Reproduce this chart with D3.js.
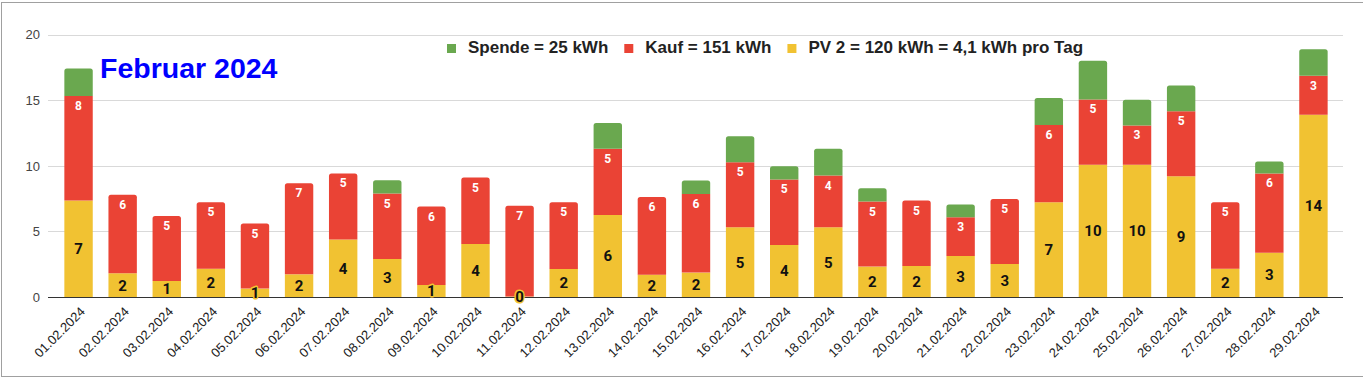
<!DOCTYPE html>
<html>
<head>
<meta charset="utf-8">
<script src="https://cdn.jsdelivr.net/npm/d3@7"></script>
<style>
  html, body { margin: 0; padding: 0; background: #fff; }
  svg { display: block; }
</style>
</head>
<body>
<div id="chart"></div>
<script>
const dates = ["01.02.2024","02.02.2024","03.02.2024","04.02.2024","05.02.2024","06.02.2024","07.02.2024","08.02.2024","09.02.2024","10.02.2024","11.02.2024","12.02.2024","13.02.2024","14.02.2024","15.02.2024","16.02.2024","17.02.2024","18.02.2024","19.02.2024","20.02.2024","21.02.2024","22.02.2024","23.02.2024","24.02.2024","25.02.2024","26.02.2024","27.02.2024","28.02.2024","29.02.2024"];
const pv     = [7.35,1.81,1.22,2.16,0.64,1.73,4.38,2.90,0.92,4.05,0.03,2.14,6.26,1.70,1.86,5.32,3.97,5.32,2.32,2.37,3.13,2.52,7.23,10.08,10.08,9.21,2.16,3.38,13.89];
const kauf   = [7.97,5.98,4.96,5.07,4.96,6.95,5.04,4.99,5.98,5.06,6.92,5.09,5.04,5.93,6.00,4.96,4.99,3.94,4.96,4.98,2.95,4.96,5.88,4.98,3.00,4.96,5.07,6.04,2.98];
const spende = [2.10,0,0,0,0,0,0,1.01,0,0,0,0,1.96,0,1.02,1.98,1.01,2.04,1.02,0,0.97,0,2.06,2.96,1.96,1.96,0,0.91,2.03];
const yTicks = [0,5,10,15,20];
const seriesKeys = ["pv","kauf","spende"];
const seriesColors = {pv:"#f1c232", kauf:"#ea4335", spende:"#6aa84f"};
const legendItems = [
  {key:"spende", label:"Spende = 25 kWh"},
  {key:"kauf", label:"Kauf = 151 kWh"},
  {key:"pv", label:"PV 2 = 120 kWh = 4,1 kWh pro Tag"}
];
const titleText = "Februar 2024";

const W = 1363, H = 378;
const rows = dates.map((d,i) => ({date:d, pv:pv[i], kauf:kauf[i], spende:spende[i]}));

const svg = d3.select("#chart").append("svg").attr("width", W).attr("height", H);

// outer frame
svg.append("rect").attr("x",1.5).attr("y",2.5).attr("width",1380).attr("height",374)
  .attr("fill","#fff").attr("stroke","#a0a0a0");

const x = d3.scaleBand().domain(dates).range([56.5, 1335.5]).paddingInner(0.356).paddingOuter(0.178);
const y = d3.scaleLinear().domain([0,20]).range([297, 34.7]);

const gridX0 = 48, gridX1 = 1343;

// gridlines
svg.append("g").selectAll("line").data(yTicks.filter(t => t !== 0)).join("line")
  .attr("x1", gridX0).attr("x2", gridX1)
  .attr("y1", d => Math.round(y(d)) + 0.5).attr("y2", d => Math.round(y(d)) + 0.5)
  .attr("stroke", "#d9d9d9").attr("stroke-width", 1);

// y tick labels
svg.append("g").selectAll("text").data(yTicks).join("text")
  .attr("x", 40).attr("y", d => y(d)).attr("dy","0.36em")
  .attr("text-anchor","end")
  .attr("font-family","'Liberation Sans', Arial, sans-serif").attr("font-size",13)
  .attr("fill","#444").text(d => d);

// stacked bars
const stack = d3.stack().keys(seriesKeys);
const stacked = stack(rows);

function topIndex(i) {
  let top = -1;
  seriesKeys.forEach((k, si) => { if (rows[i][k] > 0) top = si; });
  return top;
}

const r = 2.5;
stacked.forEach((layer, si) => {
  const key = layer.key;
  svg.append("g").selectAll("path").data(layer).join("path")
    .attr("fill", seriesColors[key])
    .attr("d", (d, i) => {
      const x0 = x(dates[i]), w = x.bandwidth();
      const yt = y(d[1]), yb = y(d[0]);
      const h = yb - yt;
      if (h <= 0) return "";
      if (topIndex(i) === si) {
        const rr = Math.min(r, h);
        return `M${x0},${yb}V${yt+rr}Q${x0},${yt} ${x0+rr},${yt}H${x0+w-rr}Q${x0+w},${yt} ${x0+w},${yt+rr}V${yb}Z`;
      }
      return `M${x0},${yb}V${yt}H${x0+w}V${yb}Z`;
    });
});

// baseline
svg.append("line").attr("x1", gridX0).attr("x2", gridX1)
  .attr("y1", y(0)+0.5).attr("y2", y(0)+0.5)
  .attr("stroke","#333").attr("stroke-width",1);

// red (Kauf) labels near top of segment
const kaufLayer = stacked[1];
svg.append("g").selectAll("text").data(kaufLayer).join("text")
  .attr("x", (d,i) => x(dates[i]) + x.bandwidth()/2)
  .attr("y", d => y(d[1]) + 14)
  .attr("text-anchor","middle")
  .attr("font-family","Roboto, 'Liberation Sans', sans-serif")
  .attr("font-weight","bold").attr("font-size",12)
  .attr("fill","#fff")
  .text((d,i) => Math.round(kauf[i]));

// yellow (PV) labels centered in segment
const pvLayer = stacked[0];
svg.append("g").selectAll("text").data(pvLayer).join("text")
  .attr("x", (d,i) => x(dates[i]) + x.bandwidth()/2)
  .attr("y", d => (y(d[0]) + y(d[1]))/2)
  .attr("dy","0.36em")
  .attr("text-anchor","middle")
  .attr("font-family","Roboto, 'Liberation Sans', sans-serif")
  .attr("font-weight","bold").attr("font-size",15)
  .attr("fill","#111")
  .attr("stroke", seriesColors.pv).attr("stroke-width",3).attr("paint-order","stroke")
  .attr("stroke-linejoin","round")
  .text((d,i) => Math.round(pv[i]));

// x labels rotated
svg.append("g").selectAll("text").data(dates).join("text")
  .attr("transform", d => `translate(${x(d) + x.bandwidth()/2 + 4},${309}) rotate(-45)`)
  .attr("text-anchor","end")
  .attr("dy","0.36em")
  .attr("font-family","'Liberation Sans', Arial, sans-serif").attr("font-size",13)
  .attr("fill","#222")
  .text(d => d);

// title
svg.append("text").attr("x",100).attr("y",78)
  .attr("font-family","'Liberation Sans', Arial, sans-serif")
  .attr("font-weight","bold").attr("font-size",28.5)
  .attr("fill","#0000ff").text(titleText);

// legend
const lg = svg.append("g");
let lx = 447;
legendItems.forEach(item => {
  lg.append("rect").attr("x", lx).attr("y", 44).attr("width", 9).attr("height", 9)
    .attr("fill", seriesColors[item.key]);
  const t = lg.append("text").attr("x", lx + 21).attr("y", 53.3)
    .attr("font-family","'Liberation Sans', Arial, sans-serif")
    .attr("font-weight","bold").attr("font-size",17)
    .attr("fill","#222").text(item.label);
  const tw = t.node().getComputedTextLength();
  lx = lx + 21 + tw + 16;
});
</script>
</body>
</html>
